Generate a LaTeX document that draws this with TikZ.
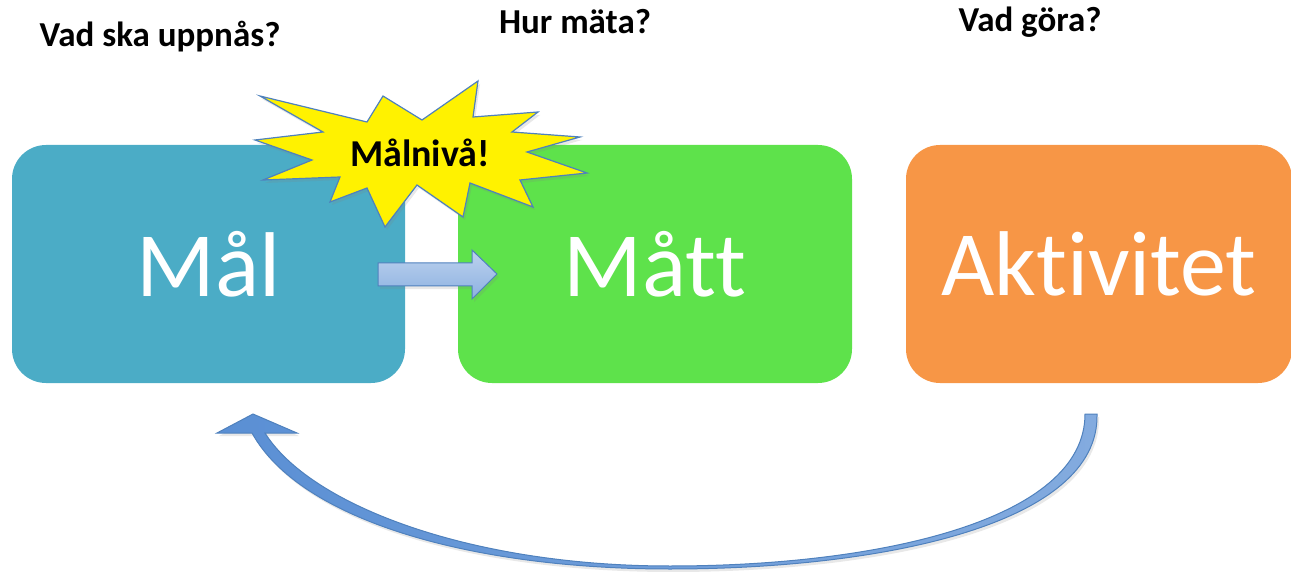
\documentclass[tikz,border=0pt]{standalone}
\usepackage{fontspec}
\setmainfont{Carlito}[Ligatures=NoCommon]
\usepackage{tikz}
\usetikzlibrary{shadows}

\definecolor{malblue}{HTML}{4BACC6}
\definecolor{mattgreen}{HTML}{5EE24B}
\definecolor{aktorange}{HTML}{F79646}
\definecolor{edgeblue}{HTML}{4F81BD}
\definecolor{arrowfill}{HTML}{5A8FD4}

\begin{document}
\begin{tikzpicture}[
  x=1pt, y=-1pt,
  box/.style={rounded corners=34pt, minimum height=238pt, inner sep=0pt,
    text=white, font=\fontsize{92}{110}\selectfont},
  question/.style={font=\bfseries\fontsize{35}{42}\selectfont},
  softshadow/.style={drop shadow={opacity=0.18, shadow xshift=2pt, shadow yshift=-3pt}}
]
  \useasboundingbox (0,0) rectangle (1291,572);

  \node[question] (q1) at (160,37) {Vad ska uppnås?};
  \node[question] (q2) at (575,22) {Hur mäta?};
  \node[question] (q3) at (1030,22) {Vad göra?};

  \node[box, fill=malblue, minimum width=393pt] (mal) at (208.5,264) {Mål};
  \node[box, fill=mattgreen, minimum width=394pt] (matt) at (655,264) {Mått};
  \node[box, fill=aktorange, minimum width=386pt] (akt) at (1099,264) {Aktivitet};

  % starburst
  \draw[fill=yellow, draw=edgeblue, line width=1.2pt, line join=miter, softshadow]
    (260,96) -- (367,122) -- (383,96) -- (422,120) -- (478,81) -- (473,117)
    -- (538,112) -- (512,132) -- (580,137) -- (527,152) -- (587,173)
    -- (520,180) -- (533,207) -- (470,183) -- (463,217) -- (417,185)
    -- (385,227) -- (367,188) -- (330,202) -- (340,177) -- (263,180)
    -- (312,160) -- (255,140) -- (323,132) -- cycle;
  \node[font=\bfseries\fontsize{38}{46}\selectfont] (level) at (420,153) {Målnivå!};

  % arrow Mål -> Mått
  \coordinate (a0) at (378,275);
  \coordinate (a1) at (497,274);
  \draw[draw=edgeblue, line width=1pt, top color=arrowfill!40!white, bottom color=arrowfill!70!white, softshadow]
    (a0) ++(0,-12) -- ++(94,0) -- ++(0,-13) -- (a1) -- ++(-25,25) -- ++(0,-13)
    -- ++(-94,0) -- cycle;

  % curved arrow Aktivitet -> Mål
  \coordinate (c0) at (1091,414);
  \coordinate (c1) at (253,414);
  \draw[draw=edgeblue, line width=1pt, left color=arrowfill, right color=arrowfill!75!white, softshadow]
    (1097,414) .. controls (1100,525) and (880,569) .. (670,569)
    .. controls (470,569) and (300,520) .. (252,433)
    -- (217,433) -- (c1) -- (297,433) -- (265,433)
    .. controls (310,505) and (470,566) .. (670,566)
    .. controls (880,566) and (1085,520) .. (1085,414) -- cycle;
\end{tikzpicture}
\end{document}
